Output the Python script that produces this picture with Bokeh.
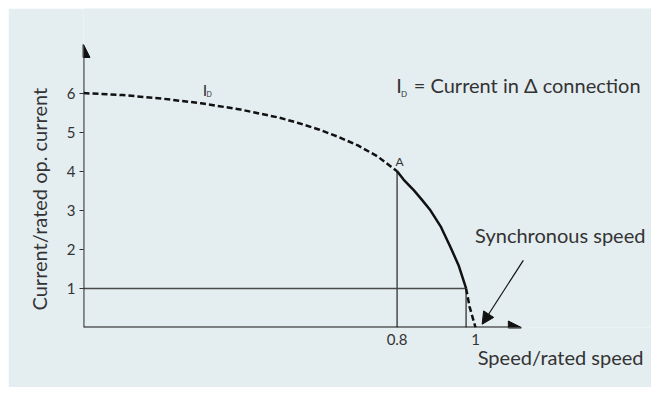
import math
from bokeh.plotting import figure
from bokeh.models import Label, Arrow, NormalHead, FixedTicker, Range1d, Title
from bokeh.embed import file_html
from bokeh.resources import INLINE

# ---- data ----
speed_start = [0.0, 0.1, 0.2, 0.3, 0.4, 0.5, 0.55, 0.6, 0.65, 0.7, 0.75, 0.8]
current_start = [6.0, 5.95, 5.86, 5.74, 5.58, 5.37, 5.23, 5.07, 4.88, 4.66, 4.38, 4.0]
speed_oper = [0.8, 0.817, 0.843, 0.864, 0.885, 0.911, 0.936, 0.957, 0.976]
current_oper = [4.0, 3.78, 3.51, 3.26, 3.0, 2.59, 2.06, 1.59, 1.0]
speed_end = [0.976, 0.985, 1.0]
current_end = [1.0, 0.53, 0.0]
y_ticks = [1, 2, 3, 4, 5, 6]
x_ticks = [0.8, 1.0]
x_tick_labels = {0.8: "0.8", 1.0: "1"}

BG = "#e4edf0"
TXT = "#333333"
INK = "#111111"
REF = "#4a4a4a"
FONT = "Lato"
Y_PX = 39.06  # pixels per current unit in the frame

p = figure(width=643, height=379, x_range=Range1d(0, 1.449), y_range=Range1d(0, 8.166),
           output_backend="svg", toolbar_location=None,
           min_border_left=75, min_border_right=0, min_border_top=0, min_border_bottom=60)
p.margin = (8, 8, 8, 8)
p.background_fill_color = BG
p.border_fill_color = BG
p.outline_line_color = None
p.grid.visible = False

# y axis ticks
p.yaxis.ticker = FixedTicker(ticks=y_ticks)
p.yaxis.axis_line_color = None
p.yaxis.major_tick_out = 4
p.yaxis.major_tick_in = 0
p.yaxis.minor_tick_line_color = None
p.yaxis.major_tick_line_color = TXT
p.yaxis.major_label_standoff = 4
p.yaxis.major_label_text_font = FONT
p.yaxis.major_label_text_font_size = "15px"
p.yaxis.major_label_text_color = TXT

# x axis ticks
p.xaxis.ticker = FixedTicker(ticks=x_ticks)
p.xaxis.major_label_overrides = x_tick_labels
p.xaxis.axis_line_color = None
p.xaxis.major_tick_line_color = None
p.xaxis.minor_tick_line_color = None
p.xaxis.major_tick_out = 0
p.xaxis.major_tick_in = 0
p.xaxis.major_label_standoff = 6
p.xaxis.major_label_text_font = FONT
p.xaxis.major_label_text_font_size = "15px"
p.xaxis.major_label_text_color = TXT

# reference lines
rated_s, rated_c = speed_oper[-1], current_oper[-1]
a_s, a_c = speed_oper[0], current_oper[0]
p.segment(x0=[0, a_s, rated_s], y0=[rated_c, 0, 0], x1=[rated_s, a_s, rated_s], y1=[rated_c, a_c, rated_c],
          line_color=REF, line_width=1.5)

# curve
p.line(speed_start, current_start, line_color=INK, line_width=2.5, line_dash="6 3")
p.line(speed_oper, current_oper, line_color=INK, line_width=2.5)
p.line(speed_end, current_end, line_color=INK, line_width=2.5, line_dash="6 3")

# axes with arrow heads
p.add_layout(Arrow(x_start=0, y_start=0, x_end=0, y_end=7.245, line_color=INK, line_width=1.8,
                   end=NormalHead(size=13, fill_color=INK, line_color=INK)))
p.add_layout(Arrow(x_start=0, y_start=0, x_end=1.117, y_end=0, line_color=INK, line_width=1.8,
                   end=NormalHead(size=13, fill_color=INK, line_color=INK)))
# synchronous speed pointer
p.add_layout(Arrow(x_start=1.122, y_start=1.72, x_end=1.017, y_end=0.084, line_color=INK, line_width=1.2,
                   end=NormalHead(size=12, fill_color=INK, line_color=INK)))

def lab(x, y, text, size_px):
    # lift the alphabetic anchor so the baseline lands where it is in the reference
    p.add_layout(Label(x=x, y=y + 0.37 * size_px / Y_PX, text=text, text_align="left",
                       text_baseline="alphabetic", text_font=FONT, text_font_size=f"{size_px}px",
                       text_color=TXT))

# axis titles as side titles
p.add_layout(Title(text="Current/rated op. current", align="left", offset=17,
                   text_font=FONT, text_font_size="20px", text_font_style="normal",
                   text_color=TXT, standoff=25), "left")
p.add_layout(Title(text="Speed/rated speed", align="right", offset=8,
                   text_font=FONT, text_font_size="20px", text_font_style="normal",
                   text_color=TXT, standoff=-10), "below")

lab(0.999, 2.19, "Synchronous speed", 20)
lab(0.798, 6.01, "I", 20)
lab(0.810, 5.90, "D", 8)
lab(0.8426, 6.01, "= Current in Δ connection", 20)
lab(0.304, 5.93, "I", 16)
lab(0.314, 5.90, "D", 7)
lab(0.796, 4.13, "A", 12)

open("out.html", "w").write(file_html(p, INLINE))
